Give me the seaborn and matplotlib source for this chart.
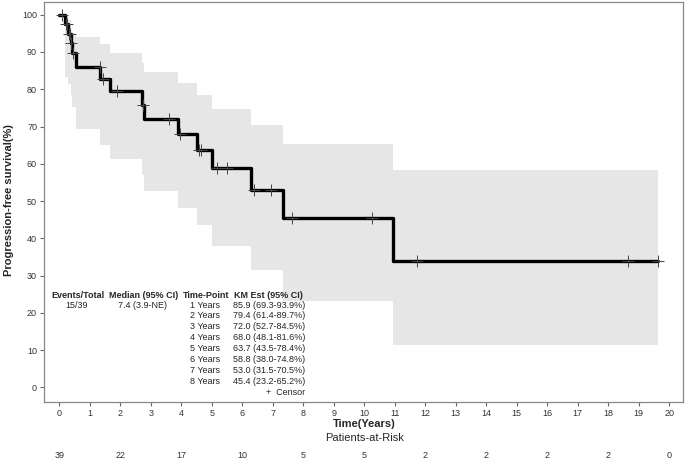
import numpy as np
import matplotlib
matplotlib.use("Agg")
import matplotlib.pyplot as plt
import matplotlib.transforms as mtransforms
import seaborn as sns

# Kaplan-Meier step data (years, % progression-free)
step_times = [0, 0.2, 0.3, 0.38, 0.42, 0.55, 1.34, 1.65, 2.72, 2.78, 3.9, 4.53, 5.0, 6.28, 7.34, 10.94]
surv = [100, 97.4, 94.9, 92.3, 89.7, 85.9, 82.7, 79.4, 75.8, 72.0, 68.0, 63.7, 58.8, 53.0, 45.4, 34.0]
ci_lower = [100, 83.2, 81.4, 78.4, 75.2, 69.3, 65.0, 61.4, 57.0, 52.7, 48.1, 43.5, 38.0, 31.5, 23.2, 11.5]
ci_upper = [100, 99.6, 98.7, 96.0, 95.0, 93.9, 92.0, 89.7, 87.0, 84.5, 81.6, 78.4, 74.8, 70.5, 65.2, 58.4]
last_time = 19.64

censor_times = [0.08, 0.22, 0.25, 0.33, 0.36, 0.40, 0.45, 1.32, 1.43, 1.89, 2.75, 3.61,
                3.96, 4.58, 4.64, 5.16, 5.51, 6.38, 6.93, 7.62, 10.26, 11.73, 18.66, 19.64]

risk_times = [0, 2, 4, 6, 8, 10, 12, 14, 16, 18, 20]
risk_counts = [39, 22, 17, 10, 5, 5, 2, 2, 2, 2, 0]

table_years = ["1 Years", "2 Years", "3 Years", "4 Years", "5 Years", "6 Years", "7 Years", "8 Years"]
table_est = ["85.9 (69.3-93.9%)", "79.4 (61.4-89.7%)", "72.0 (52.7-84.5%)", "68.0 (48.1-81.6%)",
             "63.7 (43.5-78.4%)", "58.8 (38.0-74.8%)", "53.0 (31.5-70.5%)", "45.4 (23.2-65.2%)"]
events_total = "15/39"
median_ci = "7.4 (3.9-NE)"

sns.set_style("ticks")
plt.rcParams['font.family'] = ['Liberation Sans', 'DejaVu Sans']

fig = plt.figure(figsize=(6.85, 4.61), dpi=100)
ax = fig.add_axes([44 / 685, 1 - 402 / 461, (683 - 44) / 685, (402 - 2) / 461])

x_steps = np.array(step_times + [last_time])
y_steps = np.array(surv + [surv[-1]])
lo = np.array(ci_lower + [ci_lower[-1]])
hi = np.array(ci_upper + [ci_upper[-1]])

# confidence band + KM curve
ax.fill_between(x_steps, lo, hi, step="post", color="#e6e6e6", lw=0)
sns.lineplot(x=x_steps, y=y_steps, drawstyle="steps-post", color="black", lw=2.4,
             ax=ax, estimator=None, sort=False)

# censor marks sit on the curve
idx = np.searchsorted(np.array(step_times), np.array(censor_times), side="right") - 1
censor_surv = np.array(surv)[idx]
ax.plot(censor_times, censor_surv, ls="none", marker="+", ms=8, mew=0.7, color="#444444")

ax.set_xlim(-0.5, 20.45)
ax.set_ylim(-3.9, 103.4)
ax.set_xticks(range(0, 21))
ax.set_yticks(range(0, 101, 10))
ax.tick_params(labelsize=6.5, colors="#666666", labelcolor="#333333", length=3, width=0.8, pad=2)
for sp in ax.spines.values():
    sp.set_visible(True)
    sp.set_color("#888888")
    sp.set_linewidth(0.9)
ax.set_xlabel("")
ax.set_ylabel("")

fig.text(9 / 685, 1 - 200 / 461, "Progression-free survival(%)", rotation=90,
         ha="center", va="center", fontsize=8, fontweight="bold")

trans = mtransforms.blended_transform_factory(ax.transData, ax.transAxes)
ax.text(10, -0.055, "Time(Years)", transform=trans, ha="center", va="center",
        fontsize=8, fontweight="bold")
ax.text(10, -0.089, "Patients-at-Risk", transform=trans, ha="center", va="center", fontsize=8)
for t, n in zip(risk_times, risk_counts):
    ax.text(t, -0.1325, str(n), transform=trans, ha="center", va="center",
            fontsize=6.5, color="#333333")

# summary table inside the plot
def px(xp, yp):
    return (xp - 44) / (683 - 44), (402 - yp) / (402 - 2)

fs = 6.5
for label, xc in [("Events/Total", 78), ("Median (95% CI)", 144), ("Time-Point", 206),
                  ("KM Est (95% CI)", 268)]:
    ax.text(*px(xc, 295), label, transform=ax.transAxes, ha="center", va="center",
            fontsize=fs, fontweight="bold")
ax.text(*px(77, 305), events_total, transform=ax.transAxes, ha="center", va="center", fontsize=fs)
ax.text(*px(142, 305), median_ci, transform=ax.transAxes, ha="center", va="center", fontsize=fs)
for i, (yr, est) in enumerate(zip(table_years, table_est)):
    yp = 305 + i * 10.9
    ax.text(*px(220, yp), yr, transform=ax.transAxes, ha="right", va="center", fontsize=fs)
    ax.text(*px(233, yp), est, transform=ax.transAxes, ha="left", va="center", fontsize=fs)
ax.text(*px(305, 392.3), "+  Censor", transform=ax.transAxes, ha="right", va="center", fontsize=fs)

fig.savefig("out.png", dpi=100)
